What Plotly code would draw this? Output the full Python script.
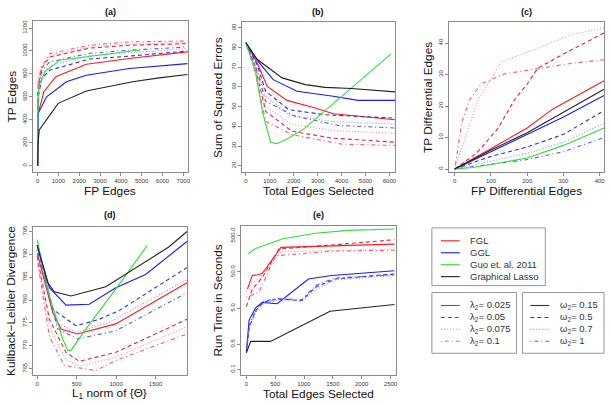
import plotly.graph_objects as go

W, H = 612, 405

# ---------------- data ----------------
# (a) TP edges vs FP edges
a_lam1_x = [0, 29, 300, 874, 2340, 4408, 7200]
a_lam1_y = [0, 457, 645, 776, 885, 934, 992]
a_lam2_x = [0, 25, 190, 587, 2500, 4408, 7200]
a_lam2_y = [0, 700, 850, 948, 1025, 1050, 1064]
a_lam3_x = [0, 25, 190, 587, 2500, 4408, 7200]
a_lam3_y = [0, 730, 855, 960, 1035, 1062, 1075]
a_lam4_x = [0, 25, 191, 587, 2497, 4408, 7200]
a_lam4_y = [0, 750, 862, 977, 1050, 1079, 1087]
a_om1_x = [0, 29, 430, 1385, 2340, 4408, 7200]
a_om1_y = [0, 457, 601, 732, 789, 847, 890]
a_om2_x = [0, 30, 200, 587, 2500, 4408, 7200]
a_om2_y = [0, 600, 760, 833, 930, 955, 1000]
a_om3_x = [0, 30, 200, 587, 2500, 4408, 7200]
a_om3_y = [0, 640, 800, 870, 960, 985, 1020]
a_om4_x = [0, 30, 200, 587, 2500, 4408, 7200]
a_om4_y = [0, 660, 830, 905, 980, 1007, 1035]
a_guo_x = [0, 29, 110, 349, 1065, 2497, 4408, 4900]
a_guo_y = [60, 630, 717, 818, 920, 955, 998, 1006]
a_gl_x = [0, 20, 80, 986, 2340, 4570, 5840, 7200]
a_gl_y = [0, 200, 312, 544, 651, 732, 766, 795]

# (b) sum of squared errors vs total edges
b_lam1_x = [0, 480, 894, 1721, 2897, 3653, 6234]
b_lam1_y = [82.4, 72, 60.3, 53.2, 49.3, 46.4, 43.4]
b_lam2_x = [0, 400, 828, 1931, 3586, 6234]
b_lam2_y = [82.4, 70, 47.6, 37.5, 34.1, 32]
b_lam3_x = [0, 400, 828, 1931, 3586, 6234]
b_lam3_y = [82.4, 69.5, 50, 41, 38, 36.5]
b_lam4_x = [0, 400, 828, 1931, 4000, 6234]
b_lam4_y = [82.4, 67, 42.5, 35.8, 31, 30.3]
b_om1_x = [0, 480, 1142, 2135, 3653, 4690, 6234]
b_om1_y = [82.4, 73.5, 63.7, 57.8, 55.3, 53.2, 53.2]
b_om2_x = [0, 480, 828, 1793, 3310, 6234]
b_om2_y = [82.4, 71, 57.8, 48.5, 45.9, 44.2]
b_om3_x = [0, 480, 828, 1793, 3586, 6234]
b_om3_y = [82.4, 69, 55.3, 45.9, 42.5, 41.2]
b_om4_x = [0, 480, 828, 2069, 3862, 6234]
b_om4_y = [82.4, 68, 52.7, 45.1, 40.5, 39.2]
b_guo_x = [0, 400, 700, 1034, 1300, 1700, 2400, 3653, 6069]
b_guo_y = [82.4, 68, 47, 32, 31.2, 33.5, 38.5, 51.5, 76.8]
b_gl_x = [0, 480, 1514, 2483, 3310, 4414, 6234]
b_gl_y = [82.4, 73.9, 64.6, 61.2, 59.8, 59.2, 57.5]

# (c) TP differential edges vs FP differential edges
c_lam1_x = [0, 100, 200, 270, 412]
c_lam1_y = [0, 6.5, 13, 19, 28]
c_lam2_x = [0, 60, 120, 165, 200, 229, 300, 350, 412]
c_lam2_y = [0, 5, 13, 22, 27, 32, 36.5, 39.5, 43.2]
c_lam3_x = [0, 30, 64, 92, 128, 210, 320, 412]
c_lam3_y = [0, 10, 22, 27, 34, 37.5, 42.6, 44.8]
c_lam4_x = [0, 20, 41, 73, 137, 229, 320, 412]
c_lam4_y = [0, 15, 22, 27, 30.2, 31.8, 33.5, 34.7]
c_om1_x = [0, 100, 200, 300, 412]
c_om1_y = [0, 5.5, 11, 16.5, 23.3]
c_om2_x = [0, 100, 200, 300, 412]
c_om2_y = [0, 4, 7, 11, 18.5]
c_om3_x = [0, 100, 200, 300, 412]
c_om3_y = [0, 2.5, 5, 8.5, 14.5]
c_om4_x = [0, 100, 200, 300, 412]
c_om4_y = [0, 1.5, 3, 5.5, 10]
c_guo_x = [0, 50, 200, 300, 412]
c_guo_y = [0, 0.5, 3.5, 7.5, 13]
c_gl_x = [0, 100, 200, 300, 412]
c_gl_y = [0, 6, 11.5, 18, 25.3]

# (d) Kullback-Leibler divergence vs L1 norm
d_lam1_x = [0, 197, 303, 513, 996, 1899]
d_lam1_y = [790.3, 777.3, 773.7, 772.6, 774.8, 783.8]
d_lam2_x = [0, 155, 366, 534, 996, 1899]
d_lam2_y = [789.6, 775.8, 768.6, 766.6, 768.6, 775.8]
d_lam3_x = [0, 155, 366, 534, 996, 1899]
d_lam3_y = [789.3, 774, 767, 765.6, 767.5, 774.2]
d_lam4_x = [0, 155, 345, 744, 996, 1899]
d_lam4_y = [788.9, 772, 765.7, 764.6, 766.8, 772.6]
d_om1_x = [0, 155, 366, 660, 996, 1374, 1899]
d_om1_y = [792, 782.7, 778.9, 779.1, 782.7, 785.6, 792.8]
d_om2_x = [0, 197, 492, 786, 1038, 1899]
d_om2_y = [792, 778, 774.4, 775.8, 777.7, 787.1]
d_om3_x = [0, 240, 492, 912, 1899]
d_om3_y = [791, 775.1, 772.9, 775.1, 784.5]
d_om4_x = [0, 260, 513, 996, 1899]
d_om4_y = [791, 773.7, 771.5, 773.3, 781.6]
d_guo_x = [0, 155, 324, 387, 429, 618, 996, 1395]
d_guo_y = [793.2, 780.9, 771.5, 769, 769, 773.7, 782.4, 791.9]
d_gl_x = [0, 134, 218, 429, 870, 1290, 1668, 1899]
d_gl_y = [792, 783.8, 781.8, 780.9, 782.9, 787.4, 791.6, 795]

# (e) run time vs total edges (log scale)
e_lam1_x = [17, 103, 189, 275, 600, 1078, 2569]
e_lam1_y = [17, 40, 42, 45, 240, 255, 295]
e_lam2_x = [0, 103, 275, 562, 1500, 2569]
e_lam2_y = [5.5, 17, 35, 215, 280, 390]
e_lam3_x = [0, 100, 275, 600, 2569]
e_lam3_y = [15, 25, 38, 180, 215]
e_lam4_x = [0, 218, 505, 1500, 2569]
e_lam4_y = [10, 14, 140, 190, 200]
e_om1_x = [0, 46, 160, 275, 533, 1078, 1479, 2569]
e_om1_y = [0.31, 2.3, 5.1, 7.2, 6.6, 32, 40, 54]
e_om2_x = [0, 50, 160, 300, 560, 960, 1200, 1540, 2569]
e_om2_y = [0.3, 1.5, 4.2, 7.5, 8.9, 8.1, 19, 32, 44]
e_om3_x = [0, 50, 160, 300, 560, 960, 1200, 1540, 2569]
e_om3_y = [0.3, 1.3, 3.8, 7, 8.5, 7.6, 16, 30, 40]
e_om4_x = [0, 50, 160, 300, 560, 960, 1200, 1540, 2569]
e_om4_y = [0.3, 1.7, 4.5, 7.8, 9.2, 8.5, 21, 34, 42]
e_guo_x = [34, 160, 619, 1193, 1766, 2569]
e_guo_y = [160, 224, 407, 589, 708, 770]
e_gl_x = [0, 75, 419, 1451, 2569]
e_gl_y = [0.29, 0.6, 0.6, 4.1, 6.3]

SERIES = ["lam1", "lam2", "lam3", "lam4", "om1", "om2", "om3", "om4", "guo", "gl"]
DASHED, DOTTED, DOTDASH = "4px,3px", "1px,2px", "1px,3px,4px,3px"
STYLE = {
    "lam1": ("#FF1A1A", "solid"),
    "lam2": ("#DD2244", DASHED),
    "lam3": ("#FF8A9A", DOTTED),
    "lam4": ("#FF5577", DOTDASH),
    "om1": ("#1A1AFF", "solid"),
    "om2": ("#3030D0", DASHED),
    "om3": ("#8C8CFF", DOTTED),
    "om4": ("#5A5AEE", DOTDASH),
    "guo": ("#33DD33", "solid"),
    "gl": ("#222222", "solid"),
}

G = globals()
FONT = "Liberation Sans, Arial, sans-serif"

def px_x(p):
    return p / W

def px_y(p):
    return 1 - p / H

# panel geometry in window pixels: left, right, top, bottom
PANELS = [
    dict(key="a", box=(33, 189, 19, 171), xr=[-230, 7230], yr=[-55, 1262],
         xt=[0, 1000, 2000, 3000, 4000, 5000, 6000, 7000], yt=[0, 200, 400, 600, 800, 1000, 1200],
         xtitle="FP Edges", ytitle="TP Edges", ytx=12, xty=190, tty=10),
    dict(key="b", box=(243, 397, 20, 171), xr=[-170, 6235], yr=[16.8, 93],
         xt=[0, 1000, 2000, 3000, 4000, 5000, 6000], yt=[20, 30, 40, 50, 60, 70, 80, 90],
         xtitle="Total Edges Selected", ytitle="Sum of Squared Errors", ytx=219, xty=190, tty=10),
    dict(key="c", box=(451, 607, 20, 171), xr=[-16.5, 412], yr=[-1, 46.7],
         xt=[0, 100, 200, 300, 400], yt=[0, 10, 20, 30, 40],
         xtitle="FP Differential Edges", ytitle="TP Differential Edges", ytx=430, xty=190, tty=10),
    dict(key="d", box=(33, 188, 226, 375), xr=[-55, 1900], yr=[763.6, 796],
         xt=[0, 500, 1000, 1500], yt=[765, 770, 775, 780, 785, 790, 795],
         xtitle="L<sub>1</sub> norm of {Θ}", ytitle="Kullback\u2212Leibler Divergence", ytx=11, xty=393, tty=214),
    dict(key="e", box=(242, 398, 225, 375), xr=[-97, 2597], yr=[-1.156, 2.974],
         xt=[0, 500, 1000, 1500, 2000, 2500], yt=[0.1, 0.5, 5.0, 50.0, 500.0],
         xtitle="Total Edges Selected", ytitle="Run Time in Seconds", ytx=219, xty=394, tty=214,
         log=True),
]

fig = go.Figure()
annotations = []
layout_axes = {}

for i, p in enumerate(PANELS, start=1):
    k = p["key"]
    xa = "x" if i == 1 else f"x{i}"
    ya = "y" if i == 1 else f"y{i}"
    for s in SERIES:
        col, dash = STYLE[s]
        fig.add_trace(go.Scatter(
            x=G[f"{k}_{s}_x"], y=G[f"{k}_{s}_y"], mode="lines",
            line=dict(color=col, dash=dash, width=1.1),
            xaxis=xa, yaxis=ya, showlegend=False, hoverinfo="skip"))
    l, r, t, b = p["box"]
    axcommon = dict(showline=True, mirror=True, linecolor="#8a8a8a", linewidth=1,
                    ticks="outside", ticklen=2.5, tickcolor="#8a8a8a", showgrid=False,
                    zeroline=False, tickfont=dict(family=FONT, size=6, color="#3a3a3a"))
    xname = "xaxis" if i == 1 else f"xaxis{i}"
    yname = "yaxis" if i == 1 else f"yaxis{i}"
    layout_axes[xname] = dict(domain=[px_x(l), px_x(r)], range=p["xr"], anchor=ya,
                              tickmode="array", tickvals=p["xt"],
                              ticktext=[str(v) for v in p["xt"]], **axcommon)
    if p.get("log"):
        layout_axes[yname] = dict(domain=[px_y(b), px_y(t)], range=p["yr"], anchor=xa, type="log",
                                  tickmode="array", tickvals=p["yt"],
                                  ticktext=[f"{v:.1f}" for v in p["yt"]], tickangle=-90, **axcommon)
    else:
        layout_axes[yname] = dict(domain=[px_y(b), px_y(t)], range=p["yr"], anchor=xa,
                                  tickmode="array", tickvals=p["yt"],
                                  ticktext=[str(v) for v in p["yt"]], tickangle=-90, **axcommon)
    cx = (l + r) / 2
    cy = (t + b) / 2
    annotations.append(dict(text=f"<b>({k})</b>", x=px_x(cx), y=px_y(p["tty"]), xref="paper", yref="paper",
                            showarrow=False, xanchor="center", yanchor="middle",
                            font=dict(family=FONT, size=9, color="#111111")))
    annotations.append(dict(text=p["xtitle"], x=px_x(cx), y=px_y(p["xty"]), xref="paper", yref="paper",
                            showarrow=False, xanchor="center", yanchor="middle",
                            font=dict(family=FONT, size=11.8, color="#111111")))
    annotations.append(dict(text=p["ytitle"], x=px_x(p["ytx"]), y=px_y(cy), xref="paper", yref="paper",
                            showarrow=False, xanchor="center", yanchor="middle", textangle=-90,
                            font=dict(family=FONT, size=11.8, color="#111111")))

# ---------------- legends (drawn as shapes + text) ----------------
shapes = []
LEG_BOXES = [(434, 548, 227, 285), (434, 519, 292, 353), (525, 607, 292, 353)]
for (l, r, t, b) in LEG_BOXES:
    shapes.append(dict(type="rect", xref="paper", yref="paper", x0=px_x(l), x1=px_x(r),
                       y0=px_y(b), y1=px_y(t), line=dict(color="#999999", width=1)))

legend1 = [("FGL", "#FF1A1A", "solid"), ("GGL", "#1A1AFF", "solid"),
           ("Guo et. al. 2011", "#33DD33", "solid"), ("Graphical Lasso", "#222222", "solid")]
legend2 = [("λ<sub>2</sub>= 0.025", "lam1"), ("λ<sub>2</sub>= 0.05", "lam2"),
           ("λ<sub>2</sub>= 0.075", "lam3"), ("λ<sub>2</sub>= 0.1", "lam4")]
legend3 = [("ω<sub>2</sub>= 0.15", "om1"), ("ω<sub>2</sub>= 0.5", "om2"),
           ("ω<sub>2</sub>= 0.7", "om3"), ("ω<sub>2</sub>= 1", "om4")]

rows1 = [240, 252, 264, 276]
rows2 = [305, 317, 329, 341]

def add_entry(x0, x1, tx, y, label, col, dash):
    shapes.append(dict(type="line", xref="paper", yref="paper", x0=px_x(x0), x1=px_x(x1),
                       y0=px_y(y), y1=px_y(y), line=dict(color=col, dash=dash, width=1.1)))
    annotations.append(dict(text=label, x=px_x(tx), y=px_y(y), xref="paper", yref="paper",
                            showarrow=False, xanchor="left", yanchor="middle",
                            font=dict(family=FONT, size=9.5, color="#333333")))

for (lab, col, dash), y in zip(legend1, rows1):
    add_entry(443, 462, 470, y, lab, col, dash)
for (lab, s), y in zip(legend2, rows2):
    add_entry(443, 462, 470, y, lab, STYLE[s][0], STYLE[s][1])
for (lab, s), y in zip(legend3, rows2):
    add_entry(533, 552, 561, y, lab, STYLE[s][0], STYLE[s][1])

fig.update_layout(width=W, height=H, margin=dict(l=0, r=0, t=0, b=0),
                  paper_bgcolor="white", plot_bgcolor="white", showlegend=False,
                  annotations=annotations, shapes=shapes, **layout_axes)

# remove the default page margin so the 612x405 figure fills the window exactly
fig.write_html("out.html", config={"displayModeBar": False, "staticPlot": True},
               post_script="document.body.style.margin='0';document.body.style.overflow='hidden';")
